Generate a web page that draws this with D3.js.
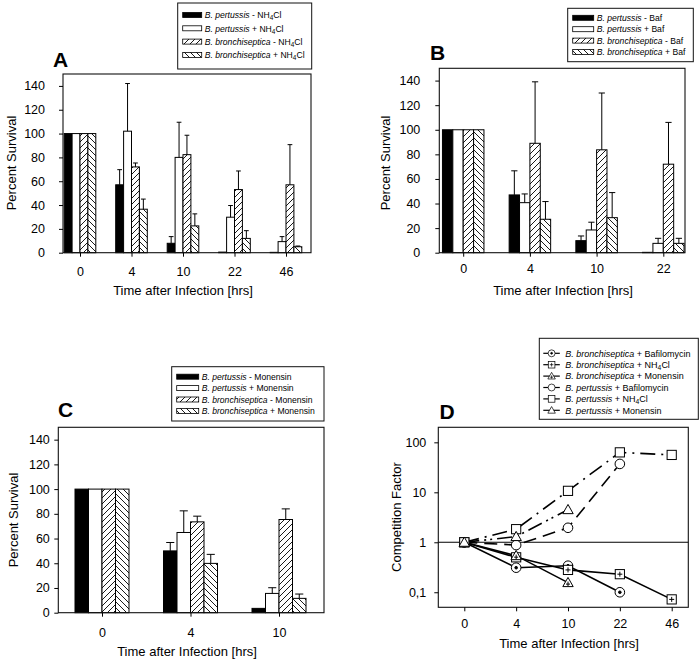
<!DOCTYPE html>
<html>
<head>
<meta charset="utf-8">
<script src="https://cdn.jsdelivr.net/npm/d3@7"></script>
<style>
  body { margin: 0; background: #fff; }
  text { font-family: "Liberation Sans", Arial, sans-serif; fill: #000; }
</style>
</head>
<body>
<svg id="fig" width="700" height="663"></svg>
<script>
// ---------- data ----------
const timesA = ["0", "4", "10", "22", "46"];
const timesB = ["0", "4", "10", "22"];
const timesC = ["0", "4", "10"];
const timesD = ["0", "4", "10", "22", "46"];

const barSpecies = ["B. pertussis", "B. pertussis", "B. bronchiseptica", "B. bronchiseptica"];
const barSigns = ["-", "+", "-", "+"];

// panel A: NH4Cl
const pertMinusA = [100, 57, 7.9, 0.5, 0.3];
const pertPlusA = [100, 102, 80, 29.8, 9.3];
const bronMinusA = [100, 72, 82.3, 53, 57];
const bronPlusA = [100, 36.5, 22.5, 12, 5];
const pertMinusAErr = [0, 12.7, 5.6, 0, 0];
const pertPlusAErr = [0, 40, 29.5, 9.8, 4.2];
const bronMinusAErr = [0, 3.3, 16.3, 15.6, 33.7];
const bronPlusAErr = [0, 8.5, 10.1, 6.5, 0.6];

// panel B: Bafilomycin
const pertMinusB = [100, 47, 9.8, 0.3];
const pertPlusB = [100, 40.7, 18.5, 7.6];
const bronMinusB = [100, 89, 83.7, 72];
const bronPlusB = [100, 27.2, 28.5, 7.6];
const pertMinusBErr = [0, 19.6, 3.8, 0];
const pertPlusBErr = [0, 7.1, 6.3, 4.1];
const bronMinusBErr = [0, 50, 46.2, 34];
const bronPlusBErr = [0, 14.4, 20.4, 4.1];

// panel C: Monensin
const pertMinusC = [100, 50, 3.5];
const pertPlusC = [100, 64.9, 15.6];
const bronMinusC = [100, 73.5, 75.4];
const bronPlusC = [100, 39.9, 11.6];
const pertMinusCErr = [0, 6.8, 0];
const pertPlusCErr = [0, 17.5, 4.6];
const bronMinusCErr = [0, 4.6, 8.6];
const bronPlusCErr = [0, 7.3, 3.5];

// panel D: competition factor
const seriesD = [
  "B. bronchiseptica + Bafilomycin",
  "B. bronchiseptica + NH4Cl",
  "B. bronchiseptica + Monensin",
  "B. pertussis + Bafilomycin",
  "B. pertussis + NH4Cl",
  "B. pertussis + Monensin"
];
const bronBafD = [1, 0.31, 0.34, 0.1];
const bronNH4D = [1, 0.5, 0.28, 0.23, 0.072];
const bronMonD = [1, 0.54, 0.156];
const pertBafD = [1, 0.88, 1.95, 37];
const pertNH4D = [1, 1.83, 10.7, 63, 56];
const pertMonD = [1, 1.3, 4.5];

const yTicksBar = [0, 20, 40, 60, 80, 100, 120, 140];
const yTicksD = [0.1, 1, 10, 100];

// ---------- drawing ----------
const svg = d3.select("#fig");
const defs = svg.append("defs");

function hatch(id, d) {
  const p = defs.append("pattern").attr("id", id)
    .attr("patternUnits", "userSpaceOnUse").attr("width", 6).attr("height", 6);
  p.append("rect").attr("width", 6).attr("height", 6).attr("fill", "#fff");
  p.append("path").attr("d", d).attr("stroke", "#000").attr("stroke-width", 0.9);
}
hatch("hatchF", "M0,6 L6,0 M-1,1 L1,-1 M5,7 L7,5");
hatch("hatchB", "M0,0 L6,6 M-1,5 L1,7 M5,-1 L7,1");
const barFills = ["#000", "#fff", "url(#hatchF)", "url(#hatchB)"];

function drugText(sel, drug) {
  if (drug === "NH4Cl") {
    sel.append("tspan").text("NH");
    sel.append("tspan").text("4").attr("font-size", "0.75em").attr("dy", 2);
    sel.append("tspan").text("Cl").attr("dy", -2);
  } else {
    sel.append("tspan").text(drug);
  }
}

function label(species, rest, drug, t) {
  t.append("tspan").attr("font-style", "italic").text(species);
  t.append("tspan").text(rest);
  drugText(t, drug);
}

function frame(g, cfg) {
  g.append("rect")
    .attr("x", cfg.left).attr("y", cfg.top)
    .attr("width", cfg.right - cfg.left).attr("height", cfg.bottom - cfg.top)
    .attr("fill", "none").attr("stroke", "#111").attr("stroke-width", 1.1);
}

function axes(g, cfg, x, y, yTicks, fmt) {
  const ay = g.append("g").attr("transform", `translate(${cfg.left},0)`)
    .call(d3.axisLeft(y).tickValues(yTicks).tickSize(4).tickSizeOuter(0)
      .tickPadding(cfg.yPad).tickFormat(fmt));
  ay.select(".domain").remove();
  ay.selectAll("text").attr("font-size", 12.5).attr("font-family", null);
  const ax = g.append("g").attr("transform", `translate(0,${cfg.bottom})`)
    .call(d3.axisBottom(x).tickSize(4).tickSizeOuter(0).tickPadding(cfg.xPad));
  ax.select(".domain").remove();
  ax.selectAll("text").attr("font-size", 12.5).attr("font-family", null);
  g.append("text").attr("x", cfg.xTitle[0]).attr("y", cfg.xTitle[1])
    .attr("text-anchor", "middle").attr("font-size", 13)
    .text("Time after Infection [hrs]");
  g.append("text")
    .attr("transform", `translate(${cfg.yTitle[0]},${cfg.yTitle[1]}) rotate(-90)`)
    .attr("text-anchor", "middle").attr("dominant-baseline", "central")
    .attr("font-size", 13).text(cfg.yLabel);
  g.append("text").attr("x", cfg.letter[0]).attr("y", cfg.letter[1])
    .attr("font-size", 21).attr("font-weight", "bold").text(cfg.name);
}

function barPanel(cfg, times, vals, errs, drug) {
  const g = svg.append("g");
  const x = d3.scalePoint().domain(times).range(cfg.centers);
  const x1 = d3.scaleBand().domain(d3.range(4)).range([-cfg.groupW / 2, cfg.groupW / 2]);
  const y = d3.scaleLinear().domain([0, 150]).range([cfg.bottom, cfg.top]);

  vals.forEach((arr, s) => {
    const bw = x1.bandwidth();
    g.append("g").selectAll("rect").data(arr).join("rect")
      .attr("x", (d, i) => x(times[i]) + x1(s))
      .attr("y", d => y(d))
      .attr("width", bw)
      .attr("height", d => y(0) - y(d))
      .attr("fill", barFills[s])
      .attr("stroke", "#000").attr("stroke-width", 1);
    const eg = g.append("g").attr("stroke", "#000").attr("stroke-width", 1);
    arr.forEach((d, i) => {
      const e = errs[s][i];
      if (!e) return;
      const cx = x(times[i]) + x1(s) + bw / 2;
      eg.append("line").attr("x1", cx).attr("x2", cx).attr("y1", y(d)).attr("y2", y(d + e));
      eg.append("line").attr("x1", cx - bw * 0.3).attr("x2", cx + bw * 0.3)
        .attr("y1", y(d + e)).attr("y2", y(d + e));
    });
  });

  frame(g, cfg);
  axes(g, cfg, x, y, yTicksBar, d3.format("d"));

  // legend
  const L = cfg.legend;
  g.append("rect").attr("x", L.x).attr("y", L.y).attr("width", L.w).attr("height", L.h)
    .attr("fill", "#fff").attr("stroke", "#111").attr("stroke-width", 1);
  barSpecies.forEach((sp, s) => {
    const ry = L.rowY + s * L.step;
    g.append("rect").attr("x", L.x + 5).attr("y", ry - 2.5).attr("width", L.sw).attr("height", 5)
      .attr("fill", barFills[s]).attr("stroke", "#000").attr("stroke-width", 0.8);
    const t = g.append("text").attr("x", L.x + L.sw + 8).attr("y", ry + 3.2)
      .attr("font-size", 8.6);
    label(sp, ` ${barSigns[s]} `, drug, t);
  });
}

barPanel({
  name: "A", left: 63, right: 311, top: 74, bottom: 252.7,
  centers: [80, 286], groupW: 31.6, yPad: 14, xPad: 10,
  xTitle: [183, 295], yTitle: [11, 163], yLabel: "Percent Survival", letter: [53, 67],
  legend: { x: 177.7, y: 3, w: 134, h: 66, rowY: 15, step: 13.3, sw: 19 }
}, timesA,
  [pertMinusA, pertPlusA, bronMinusA, bronPlusA],
  [pertMinusAErr, pertPlusAErr, bronMinusAErr, bronPlusAErr], "NH4Cl");

barPanel({
  name: "B", left: 439.3, right: 685, top: 68.3, bottom: 252.7,
  centers: [463.2, 663.3], groupW: 41.5, yPad: 15, xPad: 7,
  xTitle: [563, 295], yTitle: [385, 163], yLabel: "Percent Survival", letter: [430, 60],
  legend: { x: 567.7, y: 8.3, w: 125.6, h: 53.4, rowY: 17.8, step: 11.4, sw: 21 }
}, timesB,
  [pertMinusB, pertPlusB, bronMinusB, bronPlusB],
  [pertMinusBErr, pertPlusBErr, bronMinusBErr, bronPlusBErr], "Baf");

barPanel({
  name: "C", left: 58.3, right: 324, top: 427.3, bottom: 612.7,
  centers: [102, 279], groupW: 54, yPad: 4.5, xPad: 11.5,
  xTitle: [187, 656], yTitle: [13.3, 520], yLabel: "Percent Survival", letter: [58, 417],
  legend: { x: 171.7, y: 366.7, w: 152.3, h: 54.3, rowY: 376.7, step: 11.4, sw: 22 }
}, timesC,
  [pertMinusC, pertPlusC, bronMinusC, bronPlusC],
  [pertMinusCErr, pertPlusCErr, bronMinusCErr, bronPlusCErr], "Monensin");

// ---------- panel D ----------
(function () {
  const cfg = {
    name: "D", left: 438.3, right: 688.3, top: 427.3, bottom: 607.3,
    yPad: 8, xPad: 8, xTitle: [569, 648.3], yTitle: [396, 517],
    yLabel: "Competition Factor", letter: [439.5, 419]
  };
  const g = svg.append("g");
  const x = d3.scalePoint().domain(timesD).range([464.3, 671.7]);
  const y = d3.scaleLog().domain([0.05, 200]).range([cfg.bottom, cfg.top]);
  const vals = [bronBafD, bronNH4D, bronMonD, pertBafD, pertNH4D, pertMonD];
  const dashes = [null, null, null, "13,7", "15,6,2,6", "15,5,2,4,2,5"];
  const markers = ["circleDot", "squarePlus", "triangleFill", "circle", "square", "triangle"];

  g.append("line").attr("x1", cfg.left).attr("x2", cfg.right)
    .attr("y1", y(1)).attr("y2", y(1)).attr("stroke", "#000").attr("stroke-width", 1.1);

  const line = d3.line().x((d, i) => x(timesD[i])).y(d => y(d));
  vals.forEach((arr, s) => {
    g.append("path").datum(arr).attr("d", line).attr("fill", "none")
      .attr("stroke", "#000").attr("stroke-width", 1.6)
      .attr("stroke-dasharray", dashes[s]);
  });

  function marker(sel, kind, cx, cy) {
    const m = sel.append("g").attr("transform", `translate(${cx},${cy})`)
      .attr("stroke", "#000").attr("stroke-width", 1).attr("fill", "#fff");
    if (kind.startsWith("circle")) m.append("circle").attr("r", 4.8);
    if (kind.startsWith("square")) m.append("rect").attr("x", -4.6).attr("y", -4.6).attr("width", 9.2).attr("height", 9.2);
    if (kind.startsWith("triangle")) m.append("path").attr("d", "M0,-5.2 L5.2,4 L-5.2,4 Z");
    if (kind === "circleDot") m.append("circle").attr("r", 1.3).attr("fill", "#000");
    if (kind === "squarePlus") m.append("path").attr("d", "M-2.5,0 H2.5 M0,-2.5 V2.5");
    if (kind === "triangleFill") m.append("path").attr("d", "M-2,1.5 H2 M0,-1 V3.5");
  }

  vals.forEach((arr, s) => {
    arr.forEach((d, i) => marker(g, markers[s], x(timesD[i]), y(d)));
  });

  frame(g, cfg);
  axes(g, cfg, x, y, yTicksD, d => d === 0.1 ? "0,1" : d3.format("d")(d));

  // legend
  const L = { x: 539.3, y: 338.3, w: 159, h: 81, rowY: 353.3, step: 11.4 };
  g.append("rect").attr("x", L.x).attr("y", L.y).attr("width", L.w).attr("height", L.h)
    .attr("fill", "#fff").attr("stroke", "#111").attr("stroke-width", 1);
  seriesD.forEach((name, s) => {
    const ry = L.rowY + s * L.step;
    g.append("line").attr("x1", L.x + 4).attr("x2", L.x + 20.5).attr("y1", ry).attr("y2", ry)
      .attr("stroke", "#000").attr("stroke-width", 1.2);
    const lg = g.append("g").attr("transform", `translate(${L.x + 12.3},${ry}) scale(0.72)`);
    marker(lg, markers[s], 0, 0);
    const parts = name.split(" + ");
    const t = g.append("text").attr("x", L.x + 26).attr("y", ry + 3.3).attr("font-size", 9);
    label(parts[0], " + ", parts[1], t);
  });
})();
</script>
</body>
</html>
